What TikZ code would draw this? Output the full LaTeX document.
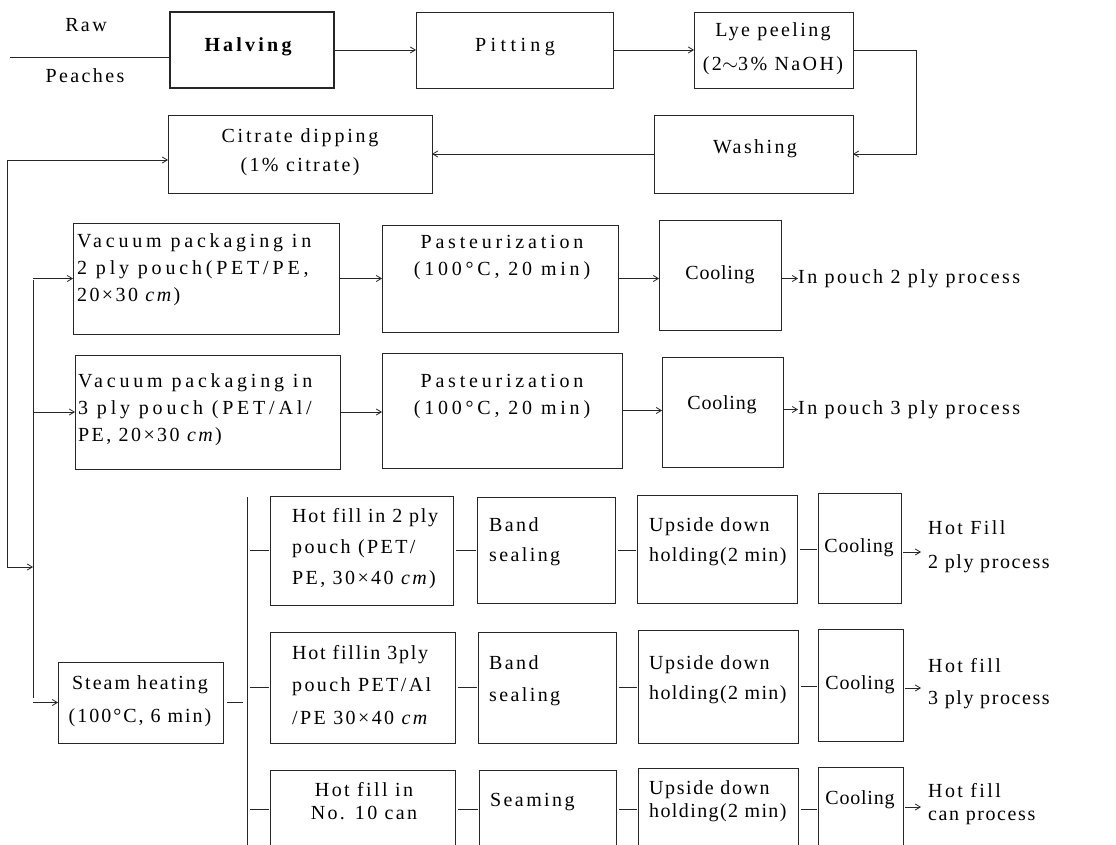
\documentclass[tikz,border=0pt]{standalone}
\usepackage{fontspec}
\setmainfont{Liberation Serif}[LetterSpace=12]
\usetikzlibrary{arrows.meta,calc}
\newcommand\txl[4]{\node[txt,anchor=mid west] (#1) at ({#2},{#3+3}) {#4};}
\newcommand\txc[4]{\node[txt,anchor=mid] (#1) at ({#2},{#3+3}) {#4};}
\newcommand\boxnode[5]{\node[bx,minimum width=#4pt-#2pt,minimum height=#5pt-#3pt] (#1) at ({(#2+#4)/2},{(#3+#5)/2}) {};}
\newcommand\ls[1]{\addfontfeature{LetterSpace=#1}}
\newcommand\cool{\ls{4}Cooling}
\begin{document}
\begin{tikzpicture}[x=1pt,y=-1pt,
  bx/.style={draw=black!85,line width=0.9pt,inner sep=0pt,outer sep=0pt},
  txt/.style={inner sep=0pt,font=\fontsize{20}{24}\selectfont,text=black},
  ln/.style={draw=black!85,line width=0.8pt},
  arr/.style={draw=black!85,line width=0.8pt,-{Straight Barb[length=5pt,width=6pt]}},
  st/.style={draw=black!85,line width=0.8pt,shorten <=3pt,shorten >=1pt}]
\path[use as bounding box,fill=white] (0,0) rectangle (1116,845);
% top row
\txc{raw}{86}{26}{Raw}
\txc{peach}{85}{77}{Peaches}
\coordinate (rs) at (10,57);
\node[bx,line width=1.1pt,minimum width=164pt,minimum height=76pt] (halving) at (252,50) {};
\txc{halvingt}{248}{46}{\bfseries\ls{16}Halving}
\boxnode{pitting}{416}{12}{613}{88}
\txc{pittingt}{515}{46}{\ls{22}Pitting}
\boxnode{lye}{694}{12}{853}{88}
\txc{lyea}{773}{31}{Lye peeling}
\txc{lyeb}{773}{65}{(2$\sim$3\% NaOH)}
\boxnode{washing}{654}{115}{853}{193}
\txc{washt}{755}{148}{Washing}
\boxnode{citrate}{168}{115}{432}{193}
\txc{cita}{300}{137}{\ls{14}Citrate dipping}
\txc{citb}{300}{166}{(1\% citrate)}
\draw[ln] (rs) -- (rs -| halving.west);
\draw[arr] (halving.east) -- (pitting.west);
\draw[arr] (pitting.east) -- (lye.west);
\draw[arr] (lye.east) -- ++(63,0) |- (washing.east);
\draw[arr] (washing.west) -- (citrate.east);
% left loop and bus
\coordinate (loop) at (7,567);
\coordinate (bus) at (33,280);
\draw[arr] (loop) |- ($(citrate.west)+(0,6)$);
\draw[arr] (loop) -- (loop -| bus);
\draw[ln] (bus) -- (33,698);
% row 1
\boxnode{vac2}{73}{223}{339}{334}
\txl{vac2a}{77}{242}{\ls{19}Vacuum packaging in}
\txl{vac2b}{77}{269}{\ls{19}2 ply pouch(PET/PE,}
\txl{vac2c}{77}{296}{20×30 \textit{cm})}
\boxnode{past1}{382}{225}{618}{332}
\txc{past1a}{502}{243}{\ls{19}Pasteurization}
\txc{past1b}{502}{270}{\ls{19}(100°C, 20 min)}
\boxnode{cool1}{659}{220}{781}{330}
\txc{cool1t}{720}{274}{\cool}
\txl{out1}{798}{278}{In pouch 2 ply process}
\draw[arr] (vac2.west -| bus) -- (vac2.west);
\draw[arr] (vac2.east) -- (vac2.east -| past1.west);
\draw[arr] (past1.east) -- (past1.east -| cool1.west);
\draw[arr] (cool1.east |- out1.west) -- (out1.west);
% row 2
\boxnode{vac3}{75}{355}{340}{469}
\txl{vac3a}{78}{382}{\ls{19}Vacuum packaging in}
\txl{vac3b}{78}{409}{\ls{19}3 ply pouch (PET/Al/}
\txl{vac3c}{78}{436}{PE, 20×30 \textit{cm})}
\boxnode{past2}{382}{353}{622}{468}
\txc{past2a}{502}{382}{\ls{19}Pasteurization}
\txc{past2b}{502}{409}{\ls{19}(100°C, 20 min)}
\boxnode{cool2}{662}{357}{783}{467}
\txc{cool2t}{722}{404}{\cool}
\txl{out2}{798}{409}{In pouch 3 ply process}
\draw[arr] (vac3.west -| bus) -- (vac3.west);
\draw[arr] (vac3.east) -- (vac3.east -| past2.west);
\draw[arr] (past2.east) -- (past2.east -| cool2.west);
\draw[arr] (cool2.east |- out2.west) -- (out2.west);
% steam heating
\boxnode{steam}{58}{662}{223}{743}
\txc{steama}{140}{684}{\ls{10}Steam heating}
\txc{steamb}{140}{717}{\ls{10}(100°C, 6 min)}
\draw[arr] (steam.west -| bus) -- (steam.west);
\coordinate (br) at (247,497);
\draw[ln] (br) -- (247,850);
\draw[ln,shorten <=4pt,shorten >=4pt] (steam.east) -- (steam.east -| br);
% row A
\boxnode{hf2}{270}{496}{453}{605}
\txl{hf2a}{292}{517}{\ls{9}Hot fill in 2 ply}
\txl{hf2b}{292}{548}{pouch (PET/}
\txl{hf2c}{292}{579}{PE, 30×40 \textit{cm})}
\boxnode{band1}{477}{497}{615}{603}
\txl{band1a}{489}{526}{Band}
\txl{band1b}{489}{556}{sealing}
\boxnode{up1}{637}{495}{797}{603}
\txl{up1a}{649}{526}{\ls{8}Upside down}
\txl{up1b}{649}{556}{\ls{7}holding(2 min)}
\boxnode{coolA}{818}{493}{901}{603}
\txc{coolAt}{859}{547}{\cool}
\txl{outAa}{928}{529}{Hot Fill}
\txl{outAb}{928}{563}{\ls{8}2 ply process}
\coordinate (outA) at (921,552);
\draw[st] (hf2.west -| br) -- (hf2.west);
\draw[st] (hf2.east) -- (hf2.east -| band1.west);
\draw[st] (band1.east) -- (band1.east -| up1.west);
\draw[st] (up1.east) -- (up1.east -| coolA.west);
\draw[arr,shorten <=2pt] (coolA.east |- outA) -- (outA);
% row B
\boxnode{hf3}{270}{632}{455}{743}
\txl{hf3a}{292}{654}{\ls{9}Hot fillin 3ply}
\txl{hf3b}{292}{686}{pouch PET/Al}
\txl{hf3c}{292}{719}{/PE 30×40 \textit{cm}}
\boxnode{band2}{478}{632}{616}{743}
\txl{band2a}{489}{664}{Band}
\txl{band2b}{489}{696}{sealing}
\boxnode{up2}{638}{630}{798}{743}
\txl{up2a}{649}{664}{\ls{8}Upside down}
\txl{up2b}{649}{694}{\ls{7}holding(2 min)}
\boxnode{coolB}{818}{629}{903}{741}
\txc{coolBt}{860}{684}{\cool}
\txl{outBa}{928}{667}{Hot fill}
\txl{outBb}{928}{699}{\ls{8}3 ply process}
\coordinate (outB) at (921,688);
\draw[st] (hf3.west -| br) -- (hf3.west);
\draw[st] (hf3.east) -- (hf3.east -| band2.west);
\draw[st] (band2.east) -- (band2.east -| up2.west);
\draw[st] (up2.east) -- (up2.east -| coolB.west);
\draw[arr,shorten <=2pt] (coolB.east |- outB) -- (outB);
% row C
\coordinate (rowC) at (0,809);
\boxnode{hfc}{270}{770}{455}{870}
\txc{hfca}{364}{791}{Hot fill in}
\txc{hfcb}{364}{814}{No. 10 can}
\boxnode{seam}{479}{770}{616}{870}
\txl{seamt}{490}{801}{Seaming}
\boxnode{up3}{638}{768}{798}{870}
\txl{up3a}{649}{789}{\ls{8}Upside down}
\txl{up3b}{649}{812}{\ls{7}holding(2 min)}
\boxnode{coolC}{818}{767}{903}{870}
\txc{coolCt}{860}{799}{\cool}
\txl{outCa}{928}{792}{Hot fill}
\txl{outCb}{928}{815}{\ls{8}can process}
\coordinate (outC) at (921,807);
\draw[st] (br |- rowC) -- (hfc.west |- rowC);
\draw[st] (hfc.east |- rowC) -- (seam.west |- rowC);
\draw[st] (seam.east |- rowC) -- (up3.west |- rowC);
\draw[st] (up3.east |- rowC) -- (coolC.west |- rowC);
\draw[arr,shorten <=2pt] (coolC.east |- outC) -- (outC);
\end{tikzpicture}
\end{document}
